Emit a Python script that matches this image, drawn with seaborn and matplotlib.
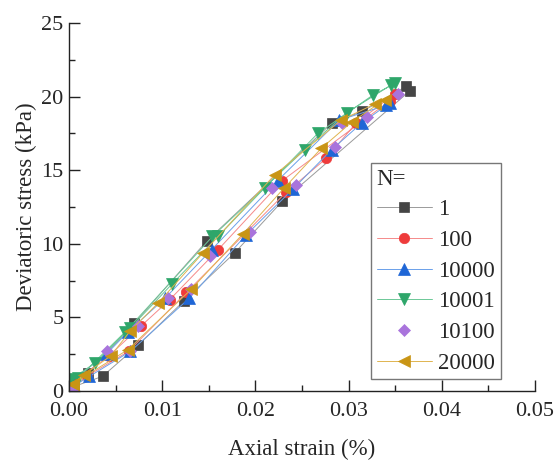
import matplotlib
matplotlib.use("Agg")
import matplotlib.pyplot as plt
import seaborn as sns
import numpy as np
from matplotlib.ticker import MultipleLocator, FormatStrFormatter

sns.set_theme(style="ticks")
plt.rcParams["font.family"] = ["Liberation Serif", "DejaVu Serif"]
plt.rcParams["mathtext.fontset"] = "stix"

# ---- data (axial strain %, deviatoric stress kPa) ----
series_labels = ["1", "100", "10000", "10001", "10100", "20000"]

n1_strain = [0.0005, 0.0036, 0.0074, 0.0123, 0.0178, 0.0229, 0.0366,
             0.0362, 0.0315, 0.0282, 0.0148, 0.0070, 0.0020, 0.0002]
n1_stress = [0.3, 1.0, 3.1, 6.1, 9.4, 12.9, 20.4,
             20.7, 19.0, 18.2, 10.2, 4.6, 1.2, 0.4]

n100_strain = [0.0003, 0.0019, 0.0064, 0.0126, 0.0233, 0.0276, 0.0308, 0.0350,
               0.0344, 0.0229, 0.0160, 0.0108, 0.0077, 0.0043, 0.0005]
n100_stress = [0.2, 1.0, 2.7, 6.7, 13.5, 15.8, 18.2, 20.2,
               19.7, 14.3, 9.6, 6.2, 4.4, 2.4, 0.6]

n10000_strain = [0.0004, 0.0022, 0.0066, 0.0129, 0.0190, 0.0240, 0.0282, 0.0314, 0.0345,
                 0.0340, 0.0290, 0.0224, 0.0153, 0.0103, 0.0063, 0.0040, 0.0003]
n10000_stress = [0.3, 1.0, 2.7, 6.3, 10.6, 13.7, 16.4, 18.2, 19.6,
                 19.4, 18.4, 14.3, 9.6, 6.3, 4.0, 2.5, 0.7]

n10001_strain = [0.0002, 0.0028, 0.0066, 0.0111, 0.0160, 0.0210, 0.0267, 0.0326, 0.0350,
                 0.0346, 0.0298, 0.0253, 0.0154, 0.0060, 0.0010]
n10001_stress = [0.8, 1.9, 4.3, 7.3, 10.5, 13.8, 17.5, 20.1, 20.9,
                 20.8, 18.9, 16.4, 10.5, 4.0, 0.9]

n10100_strain = [0.0004, 0.0065, 0.0131, 0.0194, 0.0244, 0.0285, 0.0320, 0.0353,
                 0.0293, 0.0218, 0.0151, 0.0106, 0.0074, 0.0041, 0.0004]
n10100_stress = [0.3, 2.7, 6.9, 10.8, 14.0, 16.6, 18.6, 20.2,
                 18.2, 13.8, 9.2, 6.3, 4.4, 2.7, 0.1]

n20000_strain = [0.0004, 0.0063, 0.0131, 0.0187, 0.0231, 0.0271, 0.0304, 0.0339,
                 0.0328, 0.0292, 0.0221, 0.0144, 0.0096, 0.0066, 0.0045, 0.0016, 0.0004]
n20000_stress = [0.5, 2.8, 6.9, 10.7, 13.8, 16.5, 18.3, 19.8,
                 19.5, 18.4, 14.7, 9.4, 6.0, 4.1, 2.4, 1.1, 0.5]

xs = [n1_strain, n100_strain, n10000_strain, n10001_strain, n10100_strain, n20000_strain]
ys = [n1_stress, n100_stress, n10000_stress, n10001_stress, n10100_stress, n20000_stress]

line_colors = ["#9a9a9a", "#f58a8a", "#6aa0ea", "#6cc897", "none", "#e0b450"]
marker_colors = ["#454545", "#ee3b3b", "#1f66d6", "#2ea66a", "#a974dc", "#c99515"]
markers = ["s", "o", "^", "v", "D", "<"]
msizes = [7, 7.5, 8, 8.5, 6.5, 9]

fig = plt.figure(figsize=(5.54, 4.65), dpi=100)
ax = fig.add_axes([0.1245, 0.159, 0.841, 0.7915])

for i in range(len(series_labels)):
    ls = "" if line_colors[i] == "none" else "-"
    sns.lineplot(x=xs[i], y=ys[i], ax=ax, sort=False, estimator=None,
                 color=marker_colors[i] if ls == "" else line_colors[i],
                 linestyle=ls, linewidth=0.7, alpha=1.0,
                 marker=markers[i], markersize=msizes[i],
                 markerfacecolor=marker_colors[i], markeredgecolor=marker_colors[i],
                 markeredgewidth=0.5, label=series_labels[i])

ax.set_xlim(0, 0.05)
ax.set_ylim(0, 25)
ax.xaxis.set_major_locator(MultipleLocator(0.01))
ax.xaxis.set_minor_locator(MultipleLocator(0.005))
ax.yaxis.set_major_locator(MultipleLocator(5))
ax.yaxis.set_minor_locator(MultipleLocator(2.5))
ax.xaxis.set_major_formatter(FormatStrFormatter("%.2f"))
ax.tick_params(which="major", direction="in", length=8, width=1.0, labelsize=16, color="#222222")
ax.tick_params(axis="x", which="major", pad=8)
ax.tick_params(axis="y", which="major", pad=4)
ax.tick_params(which="minor", direction="in", length=4.5, width=1.0, color="#222222")
for s in ["top", "right"]:
    ax.spines[s].set_visible(False)
for s in ["left", "bottom"]:
    ax.spines[s].set_linewidth(1.0)
    ax.spines[s].set_color("#222222")

ax.set_xlabel("Axial strain (%)", fontsize=16.5, labelpad=13)
ax.set_ylabel("Deviatoric stress (kPa)", fontsize=16.5, labelpad=3)

leg = ax.legend(title="N=", loc="upper left", bbox_to_anchor=(0.648, 0.62),
                borderaxespad=0, frameon=True, fancybox=False, fontsize=16.5,
                title_fontsize=16.5, handlelength=2.4, handletextpad=0.3,
                labelspacing=0.42, borderpad=0.25, alignment="left")
leg.get_frame().set_edgecolor("#555555")
leg.get_frame().set_linewidth(1.0)

fig.savefig("out.png", dpi=100)
